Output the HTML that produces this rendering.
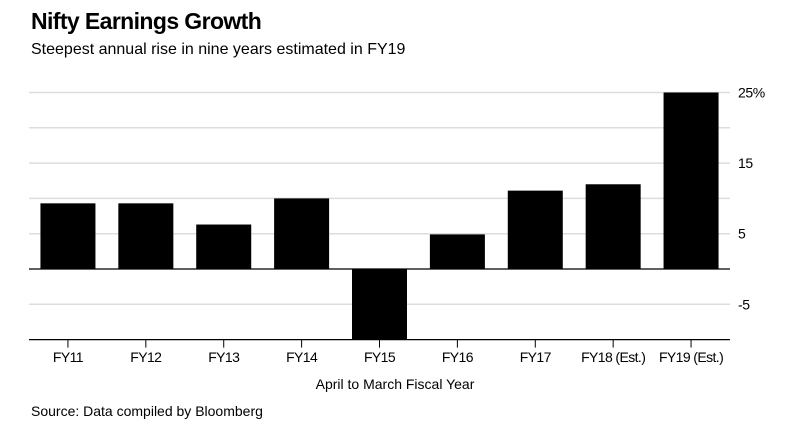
<!DOCTYPE html>
<html><head><meta charset="utf-8"><style>
body{margin:0;background:#fff;font-family:"Liberation Sans",sans-serif;}
svg text{font-family:"Liberation Sans",sans-serif;}
</style></head><body>
<svg width="791" height="432" id="c">
<text x="31" y="29" font-size="23" font-weight="bold" letter-spacing="-0.6" fill="#000">Nifty Earnings Growth</text>
<text x="31" y="54" font-size="16" fill="#000">Steepest annual rise in nine years estimated in FY19</text>
<text x="395" y="389" font-size="14" text-anchor="middle" fill="#000">April to March Fiscal Year</text>
<text x="31" y="416" font-size="14" fill="#000">Source: Data compiled by Bloomberg</text>
<g id="grid"></g><g id="bars"></g><g id="axes"></g>
</svg>
<script>
const categories=["FY11","FY12","FY13","FY14","FY15","FY16","FY17","FY18 (Est.)","FY19 (Est.)"];
const values=[9.3,9.3,6.3,10,-10,4.9,11.1,12,25];
const gridValues=[25,20,15,10,5,-5,-10];
const tickLabels=["25%","15","5","-5"];
const tickLabelValues=[25,15,5,-5];
const NS="http://www.w3.org/2000/svg";
const left=29,right=730,y0=269,pxPerUnit=7.06,barW=55;
const step=(right-left)/categories.length;
const y=v=>y0-v*pxPerUnit;
const xc=i=>left+step*(i+0.5);
function mk(tag,attrs,parent){const e=document.createElementNS(NS,tag);for(const k in attrs)e.setAttribute(k,attrs[k]);document.getElementById(parent).appendChild(e);return e;}
gridValues.forEach(v=>{
  const l=mk('line',{x1:left,x2:right,y1:y(v),y2:y(v),stroke:v===-10?'#000':'#ddd','stroke-width':v===-10?1.2:1.5},'grid');
  
  
});
values.forEach((v,i)=>{
  const r=mk('rect',{x:xc(i)-barW/2,y:Math.min(y(v),y0),width:barW,height:Math.abs(y(v)-y0),fill:'#000'},'bars');
  
  
});
const z=mk('line',{x1:left,x2:right,y1:y0,y2:y0,stroke:'#000','stroke-width':1.2},'axes');


categories.forEach((c,i)=>{
  const t=mk('line',{x1:xc(i),x2:xc(i),y1:y(-10),y2:y(-10)+8,stroke:'#000','stroke-width':1},'axes');
  
  
  const tx=mk('text',{x:xc(i),y:362,'font-size':14,'text-anchor':'middle','letter-spacing':'-0.6',fill:'#000'},'axes');
  tx.textContent=c;
  
  
});
tickLabelValues.forEach((v,i)=>{
  const tx=mk('text',{x:738,y:y(v)+5,'font-size':14,fill:'#000','letter-spacing':'-0.4'},'axes');
  tx.textContent=tickLabels[i];
  
  
});
</script>
</body></html>
